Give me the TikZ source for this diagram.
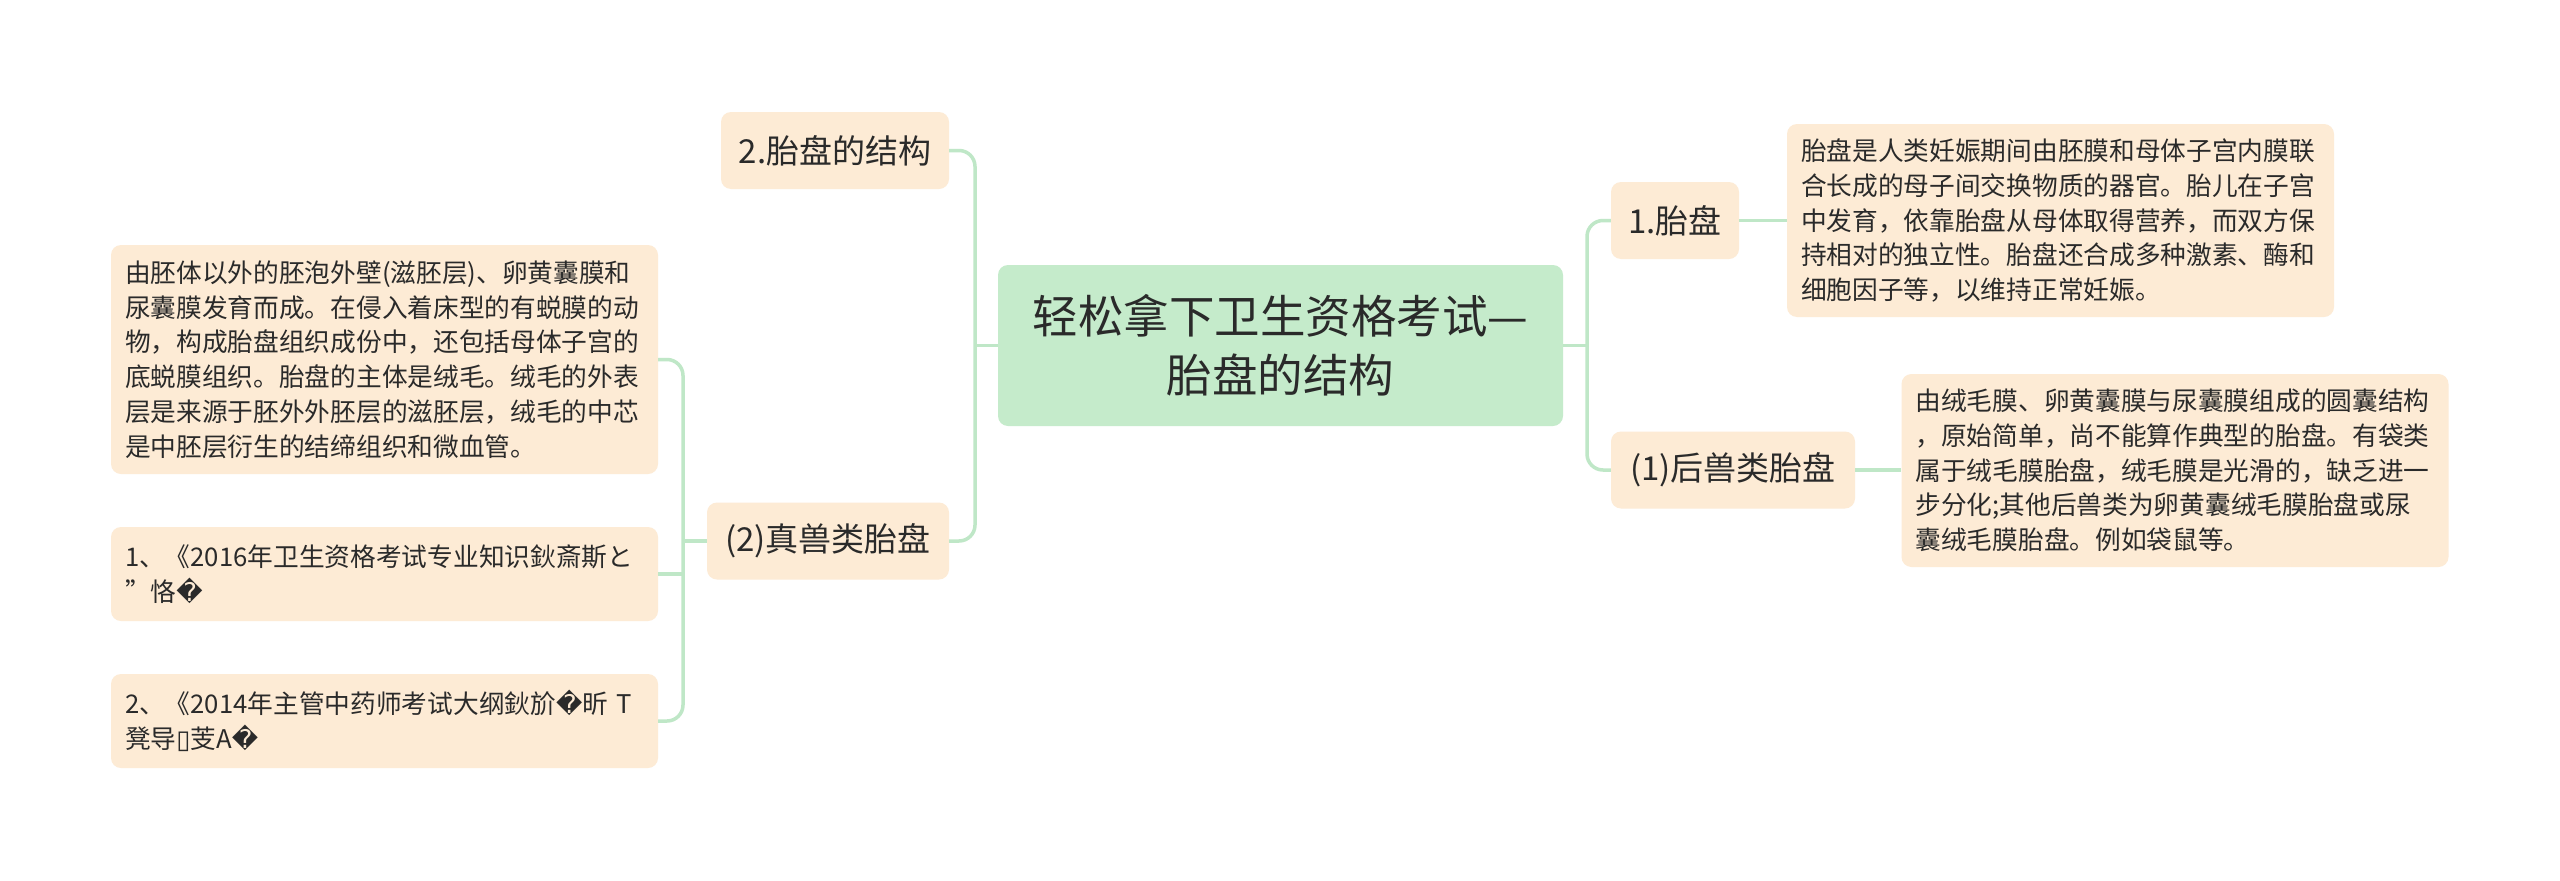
\documentclass[tikz,border=0pt]{standalone}
\usepackage{fontspec}
\setmainfont{Noto Sans CJK SC}
\newfontfamily\dv{DejaVu Sans}
\definecolor{rootfill}{HTML}{C5EBCB}
\definecolor{leaffill}{HTML}{FDEBD5}
\definecolor{linec}{HTML}{BFE7C7}
\definecolor{txt}{HTML}{2A2A2A}
\tikzset{
  base/.style={rounded corners=10pt, inner sep=0pt, text=txt, align=center},
  rootbox/.style={base, fill=rootfill, minimum width=565pt, minimum height=161pt,
    font=\fontsize{45.5}{59}\selectfont},
  midbox/.style={base, fill=leaffill, minimum height=77pt,
    font=\fontsize{33}{40}\selectfont},
  leafbox/.style={base, fill=leaffill, minimum width=547pt, align=left,
    text width=519pt, inner xsep=14pt, font=\fontsize{25.7}{34.8}\selectfont},
  conn/.style={draw=linec, line width=3.5pt},
  connr/.style={conn, rounded corners=16pt},
}
\begin{document}
\begin{tikzpicture}[x=1pt,y=-1pt]
\useasboundingbox (0,0) rectangle (2560,881);
\fill[white] (0,0) rectangle (2560,881);

% root
\node[rootbox] (root) at (1280.5,345.5) {轻松拿下卫生资格考试—\\胎盘的结构};

% level 1
\node[midbox, minimum width=228pt] (n2) at (835,150.5) {2.胎盘的结构};
\node[midbox, minimum width=242pt] (n3) at (828,541) {(2)真兽类胎盘};
\node[midbox, minimum width=128pt] (n1) at (1675,220.5) {1.胎盘};
\node[midbox, minimum width=244pt] (n4) at (1733,470) {(1)后兽类胎盘};

% right leaves
\node[leafbox, minimum height=193pt] (r1) at (2060.5,220.5) {胎盘是人类妊娠期间由胚膜和母体子宫内膜联\\合长成的母子间交换物质的器官。胎儿在子宫\\中发育，依靠胎盘从母体取得营养，而双方保\\持相对的独立性。胎盘还合成多种激素、酶和\\细胞因子等，以维持正常妊娠。};
\node[leafbox, minimum height=193pt] (r2) at (2175,470.5) {由绒毛膜、卵黄囊膜与尿囊膜组成的圆囊结构\\，原始简单，尚不能算作典型的胎盘。有袋类\\属于绒毛膜胎盘，绒毛膜是光滑的，缺乏进一\\步分化;其他后兽类为卵黄囊绒毛膜胎盘或尿\\囊绒毛膜胎盘。例如袋鼠等。};

% left leaves
\node[leafbox, minimum height=229pt] (l0) at (384.5,359.5) {由胚体以外的胚泡外壁(滋胚层)、卵黄囊膜和\\尿囊膜发育而成。在侵入着床型的有蜕膜的动\\物，构成胎盘组织成份中，还包括母体子宫的\\底蜕膜组织。胎盘的主体是绒毛。绒毛的外表\\层是来源于胚外外胚层的滋胚层，绒毛的中芯\\是中胚层衍生的结缔组织和微血管。};
\node[leafbox, minimum height=94pt] (l1) at (384.5,574) {1、《2016年卫生资格考试专业知识鈥斎斯と\\”恪{\dv �}};
\node[leafbox, minimum height=94pt] (l2) at (384.5,721) {2、《2014年主管中药师考试大纲鈥斺{\dv �}昕 T\\凳导{\dv ▯}芰A{\dv �}};

% connectors
\coordinate (ls) at (975,345.5);
\coordinate (rs) at (1587,345.5);
\coordinate (lls) at (683,541);
\draw[conn] (root.west) -- (ls);
\draw[connr] (n2.east) -| (ls) |- (n3.east);
\draw[conn] (root.east) -- (rs);
\draw[connr] (n1.west) -| (rs) |- (n4.west);
\draw[conn] (n1.east) -- (r1.west);
\draw[conn] (n4.east) -- (r2.west |- n4.east);
\draw[conn] (n3.west) -- (lls);
\draw[connr] (l0.east) -| (lls) |- (l2.east);
\draw[conn] (l1.east) -- (l1.east -| lls);
\end{tikzpicture}
\end{document}
